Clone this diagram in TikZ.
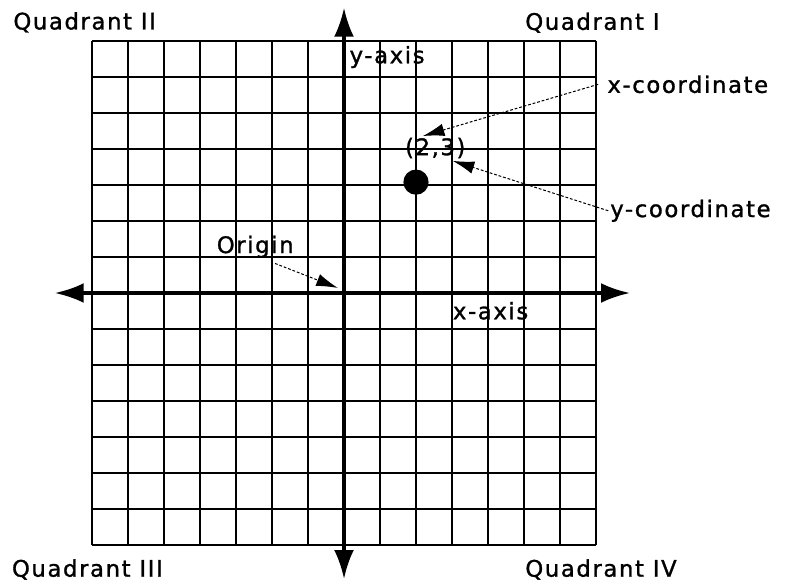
\documentclass[tikz,border=0pt]{standalone}
\usepackage{fontspec}
\setmainfont{DejaVu Sans}[LetterSpace=7, FakeBold=1.2]
\usepackage{tikz}
\usetikzlibrary{positioning,arrows.meta}

\begin{document}
\begin{tikzpicture}[
  x=1cm, y=1cm,
  every node/.style={
    inner sep=0pt, anchor=base west,
    font=\fontsize{18}{21}\selectfont
  },
  gridline/.style={line width=1pt, black},
  axis/.style={line width=2.4pt,
    {Latex[length=8mm,width=5.5mm]}-{Latex[length=8mm,width=5.5mm]}},
  pointer/.style={line width=0.8pt, dash pattern=on 2.2pt off 1.5pt,
    -{Latex[length=6mm,width=3.5mm]}},
  dot/.style={circle, fill, minimum size=7mm, anchor=center}
]
\useasboundingbox (-9.556,-8.028) rectangle (12.25,8.139);

% grid
\draw[gridline] (-7,-7) grid (7,7);

% axes
\coordinate (left) at (-8.03,0);
\coordinate (right) at (7.94,0);
\coordinate (top) at (0,7.92);
\coordinate (bottom) at (0,-7.94);
\draw[axis] (left) -- (right);
\draw[axis] (bottom) -- (top);

% quadrants
\node (q2) at (-9.19,7.32) {Quadrant II};
\node (q1) at (5.03,7.31) {Quadrant I};
\node (q3) at (-9.23,-7.88) {Quadrant III};
\node (q4) at (5.03,-7.88) {Quadrant IV};

% axis labels
\node (ylabel) at (0.15,6.38) {y-axis};
\node (xlabel) at (3.02,-0.73) {x-axis};
\node (origin) at (-3.54,1.11) {Origin};

% the point
\node[dot] (p) at (2,3.08) {};
\node (plabel) at (1.69,3.83) {(2,3)};
\node (xc) at (7.31,5.56) {x-coordinate};
\node (yc) at (7.39,2.11) {y-coordinate};

\coordinate (xtip) at (2.19,4.36);
\coordinate (ytip) at (3.02,3.67);
\coordinate (otip) at (-0.17,0.14);

\draw[pointer] ([xshift=-2.5mm]xc.west) -- (xtip);
\draw[pointer] ([xshift=-0.5mm]yc.west) -- (ytip);
\draw[pointer] ([xshift=5.5mm,yshift=-1.5mm]origin.south) -- (otip);

\end{tikzpicture}
\end{document}
